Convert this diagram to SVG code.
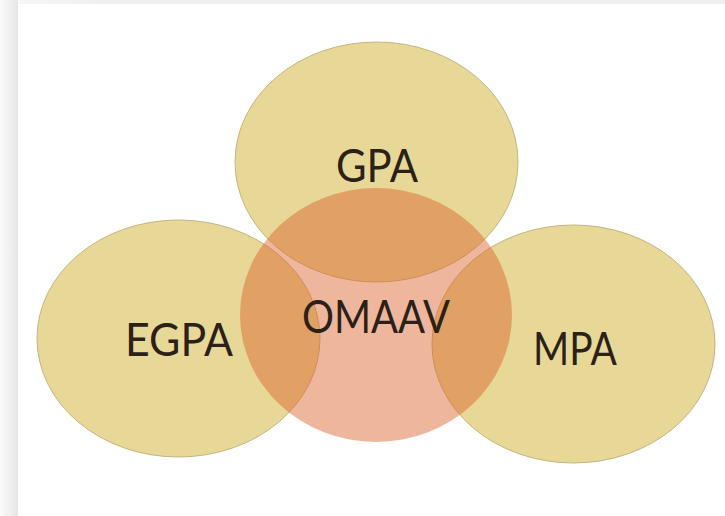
<svg xmlns="http://www.w3.org/2000/svg" width="725" height="516" viewBox="0 0 725 516">
  <defs>
    <linearGradient id="edgeLeft" x1="0" y1="0" x2="1" y2="0">
      <stop offset="0" stop-color="#fbfbfb"/>
      <stop offset="1" stop-color="#e6e6e6"/>
    </linearGradient>
    <linearGradient id="edgeTop" x1="0" y1="0" x2="1" y2="0">
      <stop offset="0" stop-color="#f6f6f6"/>
      <stop offset="0.15" stop-color="#eeeeee"/>
      <stop offset="1" stop-color="#eeeeee"/>
    </linearGradient>
    <style>
      .set { fill: #e8d897; stroke: #c4b47e; stroke-width: 1; }
      .core { fill: #d9602a; fill-opacity: 0.46; stroke: none; }
      .label { font-family: Lato, "Liberation Sans", sans-serif; font-size: 47px; fill: #2b2118; text-anchor: middle; }
    </style>
  </defs>

  <!-- page background with soft frame on the top and left -->
  <rect x="0" y="0" width="725" height="516" fill="#ffffff"/>
  <rect x="0" y="0" width="18" height="516" fill="url(#edgeLeft)"/>
  <rect x="18" y="0" width="707" height="4" fill="url(#edgeTop)"/>

  <!-- outer sets -->
  <g id="node-gpa">
    <ellipse class="set" cx="376.5" cy="162" rx="141.5" ry="120"/>
  </g>
  <g id="node-egpa">
    <ellipse class="set" cx="178.5" cy="338.5" rx="141.5" ry="118.5"/>
  </g>
  <g id="node-mpa">
    <ellipse class="set" cx="573.5" cy="344" rx="141.5" ry="119"/>
  </g>

  <!-- central set, translucent over the others -->
  <g id="node-omaav">
    <ellipse class="core" cx="376" cy="315" rx="136" ry="127"/>
  </g>

  <!-- labels, condensed to the set widths -->
  <g id="labels">
    <text class="label" x="377" y="182" textLength="82" lengthAdjust="spacingAndGlyphs">GPA</text>
    <text class="label" x="179" y="356" textLength="108" lengthAdjust="spacingAndGlyphs">EGPA</text>
    <text class="label" x="376" y="333" textLength="148" lengthAdjust="spacingAndGlyphs">OMAAV</text>
    <text class="label" x="575" y="365" textLength="84" lengthAdjust="spacingAndGlyphs">MPA</text>
  </g>

  <g id="connectors"/>
</svg>
